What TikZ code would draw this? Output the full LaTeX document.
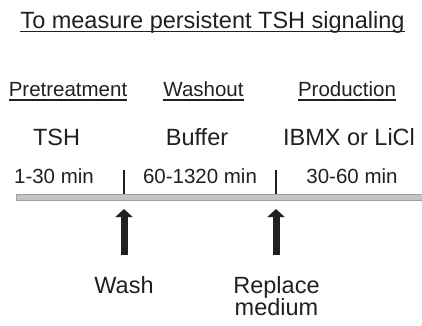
\documentclass[tikz,border=0pt]{standalone}
\usepackage{fontspec}
\setmainfont{Liberation Sans}
\usetikzlibrary{arrows.meta}
\definecolor{ink}{HTML}{231F20}
\definecolor{barfill}{HTML}{C4C4C4}
\definecolor{baredge}{HTML}{A0A0A0}
\tikzset{
  big/.style={font=\fontsize{23.5}{28}\selectfont, text=ink, inner sep=0pt, anchor=base},
  small/.style={font=\fontsize{20.5}{24}\selectfont, text=ink, inner sep=0pt, anchor=base},
  uline/.style={draw=ink, line width=1.4pt},
  tick/.style={draw=ink, line width=1.6pt},
  uparrow/.style={draw=ink, line width=7pt, -{Triangle[width=17pt,length=8pt]}, shorten >=-1pt}
}
\begin{document}
\begin{tikzpicture}[x=1pt,y=-1pt]
\useasboundingbox (0,0) rectangle (422,325);
% title
\node[big] (title) at (212.5,28) {To measure persistent TSH signaling};
\draw[uline] ([yshift=-3.7pt]title.base west) -- ([yshift=-3.7pt]title.base east);
% headers
\node[small] (h1) at (68,96.7) {Pretreatment};
\node[small] (h2) at (203.5,96.7) {Washout};
\node[small] (h3) at (347,96.7) {Production};
\foreach \h in {h1,h2,h3}
  \draw[uline] ([yshift=-3.3pt]\h.base west) -- ([yshift=-3.3pt]\h.base east);
% agents
\node[big] (a1) at (56.5,145) {TSH};
\node[big] (a2) at (197,145) {Buffer};
\node[big] (a3) at (349,145) {IBMX or LiCl};
% durations
\node[small] (d1) at (54,183.3) {1-30 min};
\node[small] (d2) at (200,183.3) {60-1320 min};
\node[small] (d3) at (352,183.3) {30-60 min};
% timeline bar
\draw[fill=barfill, draw=baredge, line width=0.8pt] (16,194.8) rectangle (423,200.8);
% ticks
\coordinate (t1top) at (124,170);
\coordinate (t1bot) at (124,193.5);
\coordinate (t2top) at (276,170);
\coordinate (t2bot) at (276,193.5);
\draw[tick] (t1top) -- (t1bot);
\draw[tick] (t2top) -- (t2bot);
% arrows
\coordinate (w1) at (124,255);
\coordinate (w1h) at (124,210);
\coordinate (w2) at (276,255);
\coordinate (w2h) at (276,210);
\draw[uparrow] (w1) -- (w1h);
\draw[uparrow] (w2) -- (w2h);
% labels
\node[big] (wash) at (124,293) {Wash};
\node[big] (rep) at (276.5,293) {Replace};
\node[big] (med) at (276.5,315) {medium};
\end{tikzpicture}
\end{document}
